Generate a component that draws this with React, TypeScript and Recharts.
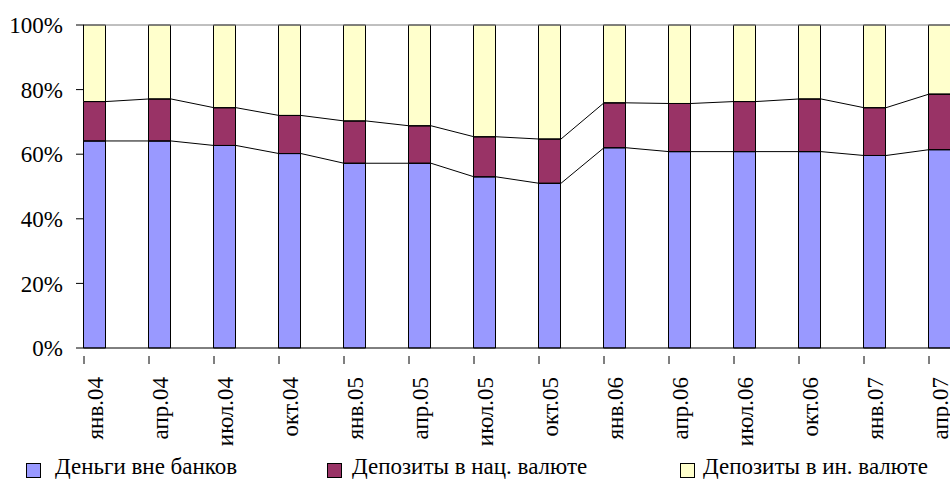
import React from 'react';
import {
  ComposedChart,
  Bar,
  Line,
  XAxis,
  YAxis,
  ReferenceLine,
} from 'recharts';

const months = [
  'янв.04', 'апр.04', 'июл.04', 'окт.04',
  'янв.05', 'апр.05', 'июл.05', 'окт.05',
  'янв.06', 'апр.06', 'июл.06', 'окт.06',
  'янв.07', 'апр.07',
];

// доли, %
const cashOutside = [64.1, 64.1, 62.7, 60.2, 57.2, 57.2, 53.0, 51.0, 62.0, 60.8, 60.8, 60.8, 59.6, 61.4];
const depositsNational = [12.2, 13.0, 11.7, 11.8, 13.1, 11.6, 12.4, 13.7, 13.9, 14.9, 15.5, 16.3, 14.8, 17.2];
const depositsForeign = [23.7, 22.9, 25.6, 28.0, 29.7, 31.2, 34.6, 35.3, 24.1, 24.3, 23.7, 22.9, 25.6, 21.4];

const yTicks = [0, 20, 40, 60, 80, 100];

const FONT = '"Liberation Serif", "Times New Roman", serif';
const FONT_SIZE = 23;
const BAR_SIZE = 22;
const STEP = 65; // расстояние между столбцами, px
const HALF = BAR_SIZE / 2 / STEP;
const DOMAIN: [number, number] = [-HALF, 14 - HALF];

const series = [
  { key: 'cash', name: 'Деньги вне банков', color: '#9999FF' },
  { key: 'nat', name: 'Депозиты в нац. валюте', color: '#993366' },
  { key: 'foreign', name: 'Депозиты в ин. валюте', color: '#FFFFCC' },
];

const data = months.map((m, i) => ({
  idx: i,
  month: m,
  cash: cashOutside[i],
  nat: depositsNational[i],
  foreign: depositsForeign[i],
}));

// линии рядов: соединяют верх сегментов соседних столбцов
const buildSeriesLine = (levels: number[]) =>
  levels.flatMap((v, i) => [
    { idx: i - HALF, level: v },
    { idx: i + HALF, level: v },
  ]);

const line1 = buildSeriesLine(cashOutside);
const line2 = buildSeriesLine(cashOutside.map((v, i) => v + depositsNational[i]));

const MonthTick = (props: any) => {
  const { x, y, payload } = props;
  const label = months[payload.value];
  const tx = x + 8;
  const ty = y + 21;
  return (
    <g>
      <line x1={x - BAR_SIZE / 2} y1={y} x2={x - BAR_SIZE / 2} y2={y + 8} stroke="#000" />
      <text
        x={tx}
        y={ty}
        transform={`rotate(-90, ${tx}, ${ty})`}
        textAnchor="end"
        fontFamily={FONT}
        fontSize={FONT_SIZE}
        fill="#000"
      >
        {label}
      </text>
    </g>
  );
};

const legendPos = [
  { marker: 26, text: 55 },
  { marker: 327, text: 352 },
  { marker: 680, text: 703 },
];

export default function App() {
  return (
    <div
      style={{
        position: 'absolute',
        left: 0,
        top: 0,
        width: 950,
        height: 480,
        overflow: 'hidden',
        background: '#fff',
      }}
    >
      <ComposedChart
        width={1010}
        height={480}
        data={data}
        margin={{ top: 25, right: 16, left: 0, bottom: 0 }}
      >
        <XAxis
          dataKey="idx"
          type="number"
          domain={DOMAIN}
          ticks={data.map((d) => d.idx)}
          interval={0}
          height={132}
          axisLine={{ stroke: '#000' }}
          tickLine={false}
          tick={<MonthTick />}
        />
        <XAxis
          xAxisId="lines"
          dataKey="idx"
          type="number"
          domain={DOMAIN}
          hide
        />
        <YAxis
          width={84}
          domain={[0, 100]}
          ticks={yTicks}
          tickFormatter={(v) => `${v}%`}
          axisLine={false}
          tickLine={{ stroke: '#000' }}
          tickSize={8}
          tickMargin={13}
          tick={{ fontFamily: FONT, fontSize: FONT_SIZE, fill: '#000' }}
        />
        <ReferenceLine y={100} stroke="#808080" />
        {series.map((s) => (
          <Bar
            key={s.key}
            dataKey={s.key}
            name={s.name}
            stackId="a"
            fill={s.color}
            stroke="#000"
            strokeWidth={1}
            barSize={BAR_SIZE}
            isAnimationActive={false}
          />
        ))}
        <Line
          xAxisId="lines"
          data={line1}
          dataKey="level"
          stroke="#000"
          strokeWidth={1}
          dot={false}
          activeDot={false}
          legendType="none"
          isAnimationActive={false}
        />
        <Line
          xAxisId="lines"
          data={line2}
          dataKey="level"
          stroke="#000"
          strokeWidth={1}
          dot={false}
          activeDot={false}
          legendType="none"
          isAnimationActive={false}
        />
      </ComposedChart>
      {series.map((s, i) => (
        <div
          key={s.key}
          style={{
            position: 'absolute',
            left: legendPos[i].marker,
            top: 463,
            width: 13,
            height: 13,
            background: s.color,
            border: '1px solid #000',
          }}
        />
      ))}
      {series.map((s, i) => (
        <div
          key={s.key + '-t'}
          style={{
            position: 'absolute',
            left: legendPos[i].text,
            top: 455,
            fontFamily: FONT,
            fontSize: FONT_SIZE,
            lineHeight: '24px',
            color: '#000',
            whiteSpace: 'nowrap',
          }}
        >
          {s.name}
        </div>
      ))}
    </div>
  );
}
